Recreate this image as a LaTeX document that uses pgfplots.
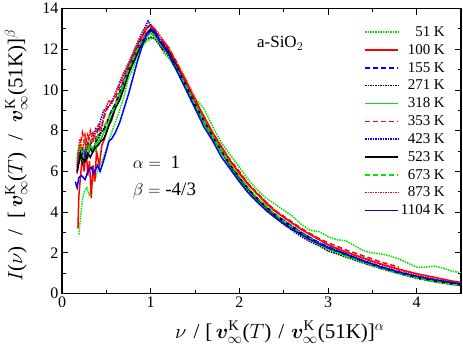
\documentclass[border=0pt]{standalone}
\usepackage{pgfplots}
\pgfplotsset{compat=1.18}
\usepackage{fontspec}
\usepackage{bm}
\setmainfont{Liberation Serif}

\definecolor{gr}{RGB}{0,230,0}
\definecolor{rd}{RGB}{255,0,0}
\definecolor{bl}{RGB}{0,0,255}

\begin{document}
\begin{tikzpicture}
\begin{axis}[
    scale only axis,
    width=399pt, height=285pt,
    xmin=0, xmax=4.5,
    ymin=0, ymax=14,
    xtick={0,1,2,3,4},
    ytick={0,2,...,14},
    minor x tick num=1,
    minor y tick num=1,
    tick align=inside,
    major tick length=6pt,
    minor tick length=3.5pt,
    every tick/.style={black, line width=1pt},
    axis line style={line width=1.2pt},
    /pgf/number format/assume math mode=true,
    tick label style={font=\fontsize{16}{18}\selectfont},
    xlabel={$\nu$\hspace{7pt}/\hspace{6pt}[\,$\bm{v}^{\mathrm{K}}_{\infty}$($T$)\hspace{7pt}/\hspace{7pt}$\bm{v}^{\mathrm{K}}_{\infty}$(51K)]$^{\alpha}$},
    ylabel={$I$($\nu$)\hspace{11pt}/\hspace{11pt}[\,$\bm{v}^{\mathrm{K}}_{\infty}$($T$)\hspace{12pt}/\hspace{12pt}$\bm{v}^{\mathrm{K}}_{\infty}$(51K)]$^{\beta}$},
    label style={font=\fontsize{21}{23}\selectfont},
    xlabel style={at={(axis description cs:0.546,-0.135)}, anchor=center},
    ylabel style={at={(axis description cs:-0.115,0.484)}, anchor=center},
    legend style={draw=none, fill=none, at={(0.965,0.945)}, anchor=north east,
        font=\fontsize{15}{15}\selectfont, row sep=2.4pt, inner sep=0pt},
    legend cell align=right,
    legend image code/.code={\draw[#1] (0pt,0pt) -- (33pt,0pt);},
    every axis plot/.append style={line width=1.5pt},
]
% 51 K
\addplot[gr, densely dotted] coordinates {
(0.19,2.9)(0.21,3.8)(0.23,4.6)(0.25,5.0)(0.28,5.2)(0.31,4.8)(0.34,5.5)(0.37,5.6)(0.4,6.0)(0.43,6.3)(0.46,6.6)(0.5,7.1)(0.55,7.8)(0.6,8.4)(0.65,9.0)(0.7,9.7)(0.75,10.6)(0.8,11.0)(0.85,11.7)(0.9,12.1)(0.95,12.4)(1.0,12.5)(1.05,12.6)(1.1,12.3)(1.15,11.8)(1.2,11.6)(1.3,11.0)(1.4,10.2)(1.5,9.6)(1.6,9.1)(1.7,8.2)(1.8,7.4)(1.9,6.8)(2.0,6.2)(2.1,5.6)(2.2,5.1)(2.3,4.7)(2.4,4.4)(2.5,4.1)(2.6,3.8)(2.7,3.4)(2.8,3.1)(2.9,3.05)(3.0,2.8)(3.1,2.65)(3.2,2.6)(3.3,2.35)(3.4,2.1)(3.5,2.0)(3.6,1.95)(3.7,1.85)(3.8,1.7)(3.9,1.5)(4.0,1.3)(4.1,1.3)(4.2,1.35)(4.3,1.25)(4.4,1.1)(4.5,1.03)};
\addlegendentry{51 K}
% 100 K
\addplot[rd, solid] coordinates {
(0.18,3.2)(0.19,4.8)(0.21,5.8)(0.23,6.8)(0.25,6.0)(0.27,7.4)(0.29,5.8)(0.31,6.5)(0.33,4.7)(0.35,6.3)(0.37,5.5)(0.39,7.0)(0.42,6.3)(0.45,7.3)(0.48,7.6)(0.52,8.2)(0.56,8.5)(0.6,9.1)(0.65,9.7)(0.7,10.3)(0.75,10.9)(0.8,11.5)(0.85,12.0)(0.9,12.4)(0.95,12.8)(1.0,13.0)(1.05,12.7)(1.1,12.3)(1.13,12.0)(1.16,12.3)(1.2,12.0)(1.3,11.2)(1.4,10.4)(1.5,9.5)(1.6,8.7)(1.7,7.9)(1.8,7.2)(1.9,6.5)(2.0,5.9)(2.1,5.35)(2.2,4.9)(2.3,4.45)(2.4,4.05)(2.5,3.75)(2.6,3.45)(2.7,3.15)(2.8,2.9)(2.9,2.65)(3.0,2.4)(3.2,2.05)(3.4,1.75)(3.6,1.45)(3.8,1.2)(4.0,0.98)(4.2,0.8)(4.4,0.62)(4.5,0.55)};
\addlegendentry{100 K}
% 155 K
\addplot[bl, dash pattern=on 5pt off 3pt] coordinates {
(0.17,6.0)(0.2,6.6)(0.23,6.9)(0.26,6.5)(0.29,7.0)(0.32,7.1)(0.35,6.9)(0.38,7.4)(0.41,7.8)(0.44,7.9)(0.47,8.0)(0.5,8.3)(0.55,8.9)(0.6,9.3)(0.65,9.9)(0.7,10.5)(0.75,11.1)(0.8,11.6)(0.85,12.1)(0.9,12.6)(0.95,13.0)(1.0,13.2)(1.05,12.9)(1.1,12.5)(1.2,11.9)(1.3,11.0)(1.4,10.2)(1.5,9.3)(1.6,8.5)(1.7,7.7)(1.8,7.0)(1.9,6.3)(2.0,5.7)(2.1,5.15)(2.2,4.7)(2.3,4.3)(2.4,3.9)(2.5,3.6)(2.6,3.3)(2.7,3.0)(2.8,2.75)(2.9,2.5)(3.0,2.3)(3.2,1.95)(3.4,1.62)(3.6,1.32)(3.8,1.07)(4.0,0.85)(4.2,0.67)(4.4,0.52)(4.5,0.45)};
\addlegendentry{155 K}
% 271 K
\addplot[black, densely dotted] coordinates {
(0.17,6.2)(0.2,6.8)(0.23,6.4)(0.26,7.0)(0.29,6.7)(0.32,7.2)(0.35,7.0)(0.38,7.5)(0.41,7.6)(0.44,7.9)(0.47,8.1)(0.5,8.4)(0.55,8.9)(0.6,9.3)(0.65,9.8)(0.7,10.3)(0.75,10.9)(0.8,11.4)(0.85,11.8)(0.9,12.2)(0.95,12.5)(1.0,12.6)(1.05,12.5)(1.1,12.2)(1.2,11.7)(1.3,10.9)(1.4,10.1)(1.5,9.2)(1.6,8.4)(1.7,7.6)(1.8,6.9)(1.9,6.2)(2.0,5.6)(2.1,5.05)(2.2,4.55)(2.3,4.1)(2.4,3.75)(2.5,3.4)(2.6,3.1)(2.7,2.8)(2.8,2.55)(2.9,2.35)(3.0,2.1)(3.2,1.8)(3.4,1.5)(3.6,1.22)(3.8,0.98)(4.0,0.75)(4.2,0.58)(4.4,0.45)(4.5,0.4)};
\addlegendentry{271 K}
% 318 K
\addplot[gr, solid] coordinates {
(0.17,6.8)(0.2,7.2)(0.23,6.6)(0.26,7.0)(0.29,6.8)(0.32,7.3)(0.35,7.1)(0.38,7.0)(0.41,7.5)(0.44,7.6)(0.47,7.9)(0.5,8.1)(0.55,8.6)(0.6,9.1)(0.65,9.6)(0.7,10.2)(0.75,10.8)(0.8,11.3)(0.85,11.8)(0.9,12.3)(0.95,12.6)(1.0,12.8)(1.05,12.6)(1.1,12.3)(1.2,11.8)(1.3,11.0)(1.4,10.1)(1.5,9.2)(1.6,8.4)(1.7,7.6)(1.8,6.9)(1.9,6.25)(2.0,5.65)(2.1,5.1)(2.2,4.6)(2.3,4.2)(2.4,3.8)(2.5,3.5)(2.6,3.2)(2.7,2.9)(2.8,2.65)(2.9,2.4)(3.0,2.2)(3.2,1.85)(3.4,1.55)(3.6,1.25)(3.8,1.0)(4.0,0.78)(4.2,0.6)(4.4,0.47)(4.5,0.42)};
\addlegendentry{318 K}
% 353 K
\addplot[rd, dash pattern=on 5pt off 3pt] coordinates {
(0.17,5.9)(0.2,7.2)(0.23,7.9)(0.26,7.3)(0.29,7.8)(0.32,7.4)(0.35,7.9)(0.38,7.6)(0.41,8.2)(0.44,8.0)(0.47,8.6)(0.5,9.0)(0.55,9.4)(0.6,9.6)(0.65,10.1)(0.7,10.6)(0.75,11.2)(0.8,11.7)(0.85,12.2)(0.9,12.6)(0.95,13.0)(1.0,13.1)(1.05,12.9)(1.1,12.6)(1.2,12.1)(1.3,11.3)(1.4,10.4)(1.5,9.5)(1.6,8.7)(1.7,7.9)(1.8,7.2)(1.9,6.55)(2.0,6.0)(2.1,5.4)(2.2,4.95)(2.3,4.5)(2.4,4.1)(2.5,3.8)(2.6,3.5)(2.7,3.2)(2.8,2.95)(2.9,2.7)(3.0,2.5)(3.2,2.15)(3.4,1.85)(3.6,1.55)(3.8,1.3)};
\addlegendentry{353 K}
% 423 K
\addplot[bl, densely dotted] coordinates {
(0.17,6.3)(0.2,6.9)(0.23,7.2)(0.26,6.8)(0.29,7.4)(0.32,7.3)(0.35,7.6)(0.38,8.1)(0.41,8.0)(0.44,8.6)(0.47,9.0)(0.5,9.1)(0.55,9.3)(0.6,9.8)(0.65,10.3)(0.7,10.8)(0.75,11.3)(0.8,11.8)(0.85,12.3)(0.9,12.8)(0.95,13.2)(0.97,13.4)(1.0,13.2)(1.05,12.9)(1.1,12.5)(1.2,11.9)(1.3,11.1)(1.4,10.2)(1.5,9.3)(1.6,8.5)(1.7,7.7)(1.8,7.0)(1.9,6.3)(2.0,5.7)(2.1,5.15)(2.2,4.7)(2.3,4.3)(2.4,3.9)(2.5,3.6)(2.6,3.3)(2.7,3.0)(2.8,2.75)(2.9,2.5)(3.0,2.3)(3.2,1.95)(3.4,1.62)(3.6,1.32)(3.8,1.05)(4.0,0.82)(4.2,0.64)(4.4,0.5)(4.5,0.44)};
\addlegendentry{423 K}
% 523 K
\addplot[black, solid] coordinates {
(0.17,6.0)(0.19,6.4)(0.21,6.9)(0.23,6.6)(0.26,6.5)(0.29,6.9)(0.32,6.7)(0.35,7.0)(0.38,7.2)(0.41,7.3)(0.44,7.5)(0.47,7.6)(0.5,7.9)(0.55,8.5)(0.6,9.1)(0.65,9.5)(0.7,10.1)(0.75,10.8)(0.8,11.3)(0.85,11.8)(0.9,12.3)(0.95,12.7)(1.0,13.0)(1.05,12.8)(1.1,12.4)(1.2,11.9)(1.3,11.1)(1.4,10.2)(1.5,9.3)(1.6,8.5)(1.7,7.7)(1.8,7.0)(1.9,6.3)(2.0,5.7)(2.1,5.15)(2.2,4.65)(2.3,4.25)(2.4,3.85)(2.5,3.55)(2.6,3.25)(2.7,2.95)(2.8,2.7)(2.9,2.45)(3.0,2.25)(3.2,1.9)(3.4,1.58)(3.6,1.28)(3.8,1.02)(4.0,0.8)(4.2,0.62)(4.4,0.48)(4.5,0.42)};
\addlegendentry{523 K}
% 673 K
\addplot[gr, dash pattern=on 5pt off 3pt] coordinates {
(0.17,6.6)(0.2,7.3)(0.23,6.9)(0.26,7.5)(0.29,7.0)(0.32,7.4)(0.35,7.6)(0.38,7.3)(0.41,7.9)(0.44,8.1)(0.47,8.2)(0.5,8.4)(0.55,8.8)(0.6,9.2)(0.65,9.8)(0.7,10.4)(0.75,11.0)(0.8,11.5)(0.85,12.0)(0.9,12.4)(0.95,12.7)(1.0,12.8)(1.05,12.6)(1.1,12.3)(1.2,11.8)(1.3,11.0)(1.4,10.2)(1.5,9.3)(1.6,8.5)(1.7,7.7)(1.8,7.0)(1.9,6.35)(2.0,5.75)(2.1,5.2)(2.2,4.7)(2.3,4.3)(2.4,3.9)(2.5,3.55)(2.6,3.25)(2.7,2.95)(2.8,2.7)(2.9,2.45)(3.0,2.2)(3.2,1.85)(3.4,1.55)(3.6,1.25)(3.8,1.0)(4.0,0.78)(4.2,0.6)(4.4,0.46)(4.5,0.4)};
\addlegendentry{673 K}
% 873 K
\addplot[rd, densely dotted] coordinates {
(0.17,6.4)(0.2,7.6)(0.23,7.0)(0.26,7.8)(0.29,7.2)(0.32,8.0)(0.35,7.5)(0.38,7.9)(0.41,8.3)(0.44,8.1)(0.47,8.7)(0.5,9.2)(0.53,9.5)(0.56,9.3)(0.6,9.8)(0.65,10.4)(0.7,10.9)(0.75,11.3)(0.8,11.8)(0.85,12.3)(0.9,12.7)(0.95,13.1)(1.0,13.2)(1.05,13.0)(1.1,12.7)(1.2,12.1)(1.3,11.3)(1.4,10.5)(1.5,9.6)(1.6,8.7)(1.7,7.9)(1.8,7.2)(1.9,6.5)(2.0,5.95)(2.1,5.4)(2.2,4.9)(2.3,4.5)(2.4,4.1)(2.5,3.75)(2.6,3.45)(2.7,3.15)(2.8,2.9)(2.9,2.65)(3.0,2.4)(3.2,2.05)(3.4,1.72)(3.6,1.42)(3.8,1.15)(4.0,0.92)(4.2,0.72)(4.4,0.56)(4.5,0.5)};
\addlegendentry{873 K}
% 1104 K
\addplot[bl, solid] coordinates {
(0.15,5.5)(0.17,5.2)(0.19,5.7)(0.22,5.8)(0.26,5.6)(0.3,6.1)(0.33,6.2)(0.36,5.9)(0.4,6.3)(0.43,6.0)(0.46,6.4)(0.5,7.0)(0.53,7.5)(0.56,7.6)(0.6,7.9)(0.65,8.4)(0.7,9.1)(0.75,9.8)(0.8,10.6)(0.85,11.4)(0.9,12.1)(0.95,12.7)(1.0,12.9)(1.05,12.8)(1.1,12.4)(1.2,11.8)(1.3,10.9)(1.4,10.0)(1.5,9.1)(1.6,8.2)(1.7,7.5)(1.8,6.7)(1.9,6.1)(2.0,5.5)(2.1,4.95)(2.2,4.5)(2.3,4.1)(2.4,3.75)(2.5,3.45)(2.6,3.15)(2.7,2.9)(2.8,2.65)(2.9,2.45)(3.0,2.25)(3.2,1.95)(3.4,1.6)(3.6,1.3)(3.8,1.05)(4.0,0.85)(4.2,0.68)(4.4,0.55)(4.5,0.47)};
\addlegendentry{1104 K}

\node[anchor=center, font=\fontsize{17}{19}\selectfont] at (axis cs:2.46,12.3) {a-SiO$_2$};
\node[anchor=west, font=\fontsize{19}{21}\selectfont] at (axis cs:0.76,6.45) {$\alpha =$\ \ 1};
\node[anchor=west, font=\fontsize{19}{21}\selectfont] at (axis cs:0.76,5.05) {$\beta =$ -4/3};
\coordinate (bbsw) at (rel axis cs:-0.1554,-0.214);
\coordinate (bbne) at (rel axis cs:1.005,1.028);
\end{axis}
\path (bbsw) rectangle (bbne);
\end{tikzpicture}
\end{document}
